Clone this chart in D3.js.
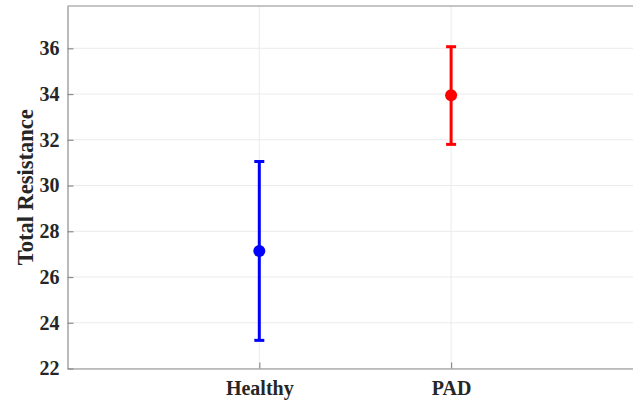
<!DOCTYPE html>
<html>
<head>
<meta charset="utf-8">
<script src="https://cdn.jsdelivr.net/npm/d3@7"></script>
<style>
  body { margin: 0; background: #fff; }
  text { font-family: "Liberation Serif", "Times New Roman", serif; font-weight: bold; fill: #262626; }
</style>
</head>
<body>
<svg id="chart" width="633" height="400"></svg>
<script>
var groups = ['Healthy', 'PAD'];
var means = [27.14, 33.95];
var lower = [23.23, 31.8];
var upper = [31.05, 36.07];
var colors = ['#0000ff', '#ff0000'];
var yTicks = [22, 24, 26, 28, 30, 32, 34, 36];

var margin = {left: 67.5, top: 6, bottom: 368.5};
var svg = d3.select('#chart');

var x = d3.scaleLinear().domain([0, 3]).range([margin.left, margin.left + 3 * 191.8]);
var y = d3.scaleLinear().domain([22, 37.85]).range([margin.bottom, margin.top]);

// grid
svg.append('g').selectAll('line.gy')
    .data(yTicks)
  .enter().append('line')
    .attr('x1', x(0)).attr('x2', x(3))
    .attr('y1', function (d) { return y(d); })
    .attr('y2', function (d) { return y(d); })
    .attr('stroke', '#ebebeb').attr('stroke-width', 1);

svg.append('g').selectAll('line.gx')
    .data(groups)
  .enter().append('line')
    .attr('x1', function (d, i) { return x(i + 1); })
    .attr('x2', function (d, i) { return x(i + 1); })
    .attr('y1', y.range()[0]).attr('y2', y.range()[1])
    .attr('stroke', '#ebebeb').attr('stroke-width', 1);

// axes
var yAxis = d3.axisLeft(y).tickValues(yTicks).tickSizeInner(-6).tickSizeOuter(0).tickPadding(8);
var gy = svg.append('g').attr('transform', 'translate(' + margin.left + ',0)').call(yAxis);
gy.selectAll('text').style('font-size', '20px').attr('fill', '#262626');

var xAxis = d3.axisBottom(x).tickValues([1, 2])
    .tickFormat(function (d) { return groups[d - 1]; })
    .tickSizeInner(-6).tickSizeOuter(0).tickPadding(12);
var gx = svg.append('g').attr('transform', 'translate(0,' + margin.bottom + ')').call(xAxis);
gx.selectAll('text').style('font-size', '20px').attr('fill', '#262626');

svg.selectAll('.domain, .tick line').attr('stroke', '#8c8c8c').attr('stroke-width', 1.2);

// top border
svg.append('line')
    .attr('x1', x(0)).attr('x2', x(3))
    .attr('y1', y.range()[1]).attr('y2', y.range()[1])
    .attr('stroke', '#8c8c8c').attr('stroke-width', 1.2);

// y label
svg.append('text')
    .attr('transform', 'translate(33,' + ((margin.top + margin.bottom) / 2) + ') rotate(-90)')
    .attr('text-anchor', 'middle')
    .style('font-size', '22.5px')
    .text('Total Resistance');

// error bars
var bars = svg.append('g').selectAll('g.bar')
    .data(groups)
  .enter().append('g');

bars.append('line')
    .attr('x1', function (d, i) { return x(i + 1); })
    .attr('x2', function (d, i) { return x(i + 1); })
    .attr('y1', function (d, i) { return y(lower[i]); })
    .attr('y2', function (d, i) { return y(upper[i]); })
    .attr('stroke', function (d, i) { return colors[i]; })
    .attr('stroke-width', 3);

[lower, upper].forEach(function (arr) {
  bars.append('line')
      .attr('x1', function (d, i) { return x(i + 1) - 5; })
      .attr('x2', function (d, i) { return x(i + 1) + 5; })
      .attr('y1', function (d, i) { return y(arr[i]); })
      .attr('y2', function (d, i) { return y(arr[i]); })
      .attr('stroke', function (d, i) { return colors[i]; })
      .attr('stroke-width', 3);
});

bars.append('circle')
    .attr('cx', function (d, i) { return x(i + 1); })
    .attr('cy', function (d, i) { return y(means[i]); })
    .attr('r', 6)
    .attr('fill', function (d, i) { return colors[i]; });
</script>
</body>
</html>
